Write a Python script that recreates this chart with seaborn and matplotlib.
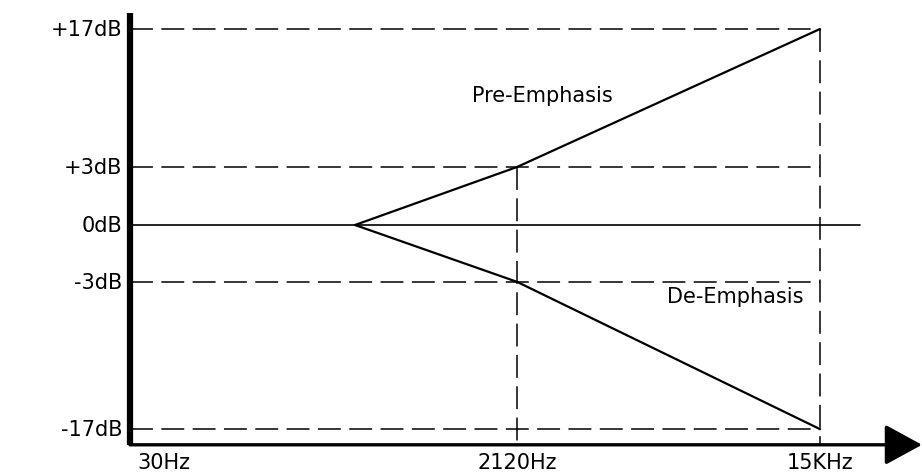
import matplotlib
matplotlib.use("Agg")
import matplotlib.pyplot as plt
import pandas as pd
import seaborn as sns

# schematic positions (not to scale), x: 30Hz at 0, y: 0dB at 0
freq_labels = ["30Hz", "2120Hz", "15KHz"]
freq_pos = [0.0, 3.87, 6.90]
knee_x = 2.25

level_labels = ["+17dB", "+3dB", "0dB", "-3dB", "-17dB"]
level_pos = [3.38, 1.0, 0.0, -0.98, -3.52]

pre_x = [knee_x, 3.87, 6.90]
pre_y = [0.0, 1.0, 3.38]
de_x = [knee_x, 3.87, 6.90]
de_y = [0.0, -0.98, -3.52]

AXIS_Y = -3.79
AXIS_TOP = 3.66
ZERO_END = 7.30
ARROW_TIP = 7.92
DASH = (0, (15, 5.5))

sns.set_theme(style="white")
plt.rcParams["font.family"] = ["DejaVu Sans"]

curves = pd.DataFrame({
    "x": pre_x + de_x,
    "y": pre_y + de_y,
    "curve": ["Pre-Emphasis"] * 3 + ["De-Emphasis"] * 3,
})

fig = plt.figure(figsize=(9.22, 4.77), dpi=100)
ax = fig.add_axes([0, 0, 1, 1])
ax.set_xlim(-1.30, 7.92)
ax.set_ylim(-4.328, 3.897)
ax.axis("off")

# dashed guide lines
for lbl, y in zip(level_labels, level_pos):
    if lbl == "0dB":
        continue
    ax.plot([freq_pos[0], freq_pos[2]], [y, y], color="black", lw=1.1, ls=DASH)
ax.plot([freq_pos[1], freq_pos[1]], [pre_y[1], AXIS_Y], color="black", lw=1.1, ls=DASH)
ax.plot([freq_pos[2], freq_pos[2]], [pre_y[2], AXIS_Y], color="black", lw=1.1, ls=DASH)

# 0dB reference
ax.plot([freq_pos[0], ZERO_END], [0, 0], color="black", lw=1.2)

sns.lineplot(data=curves, x="x", y="y", units="curve", estimator=None,
             color="black", lw=1.6, ax=ax, legend=False)

# axes
ax.plot([0, 0], [AXIS_Y, AXIS_TOP], color="black", lw=4.5, solid_capstyle="butt")
ax.annotate("", xy=(ARROW_TIP, AXIS_Y), xytext=(0, AXIS_Y),
            arrowprops=dict(arrowstyle="-|>,head_length=1.1,head_width=0.6",
                            lw=2.4, color="black", mutation_scale=21,
                            shrinkA=0, shrinkB=0))

fs = 15
for lbl, y in zip(level_labels, level_pos):
    ax.text(-0.08, y, lbl, ha="right", va="center", fontsize=fs, color="black")

for i, (lbl, x) in enumerate(zip(freq_labels, freq_pos)):
    ax.text(x + (0.34 if i == 0 else 0), AXIS_Y - 0.12, lbl, ha="center",
            va="top", fontsize=fs, color="black")

ax.text(4.12, 2.24, "Pre-Emphasis", ha="center", va="center", fontsize=fs, color="black")
ax.text(6.05, -1.22, "De-Emphasis", ha="center", va="center", fontsize=fs, color="black")

fig.savefig("out.png", dpi=100)
